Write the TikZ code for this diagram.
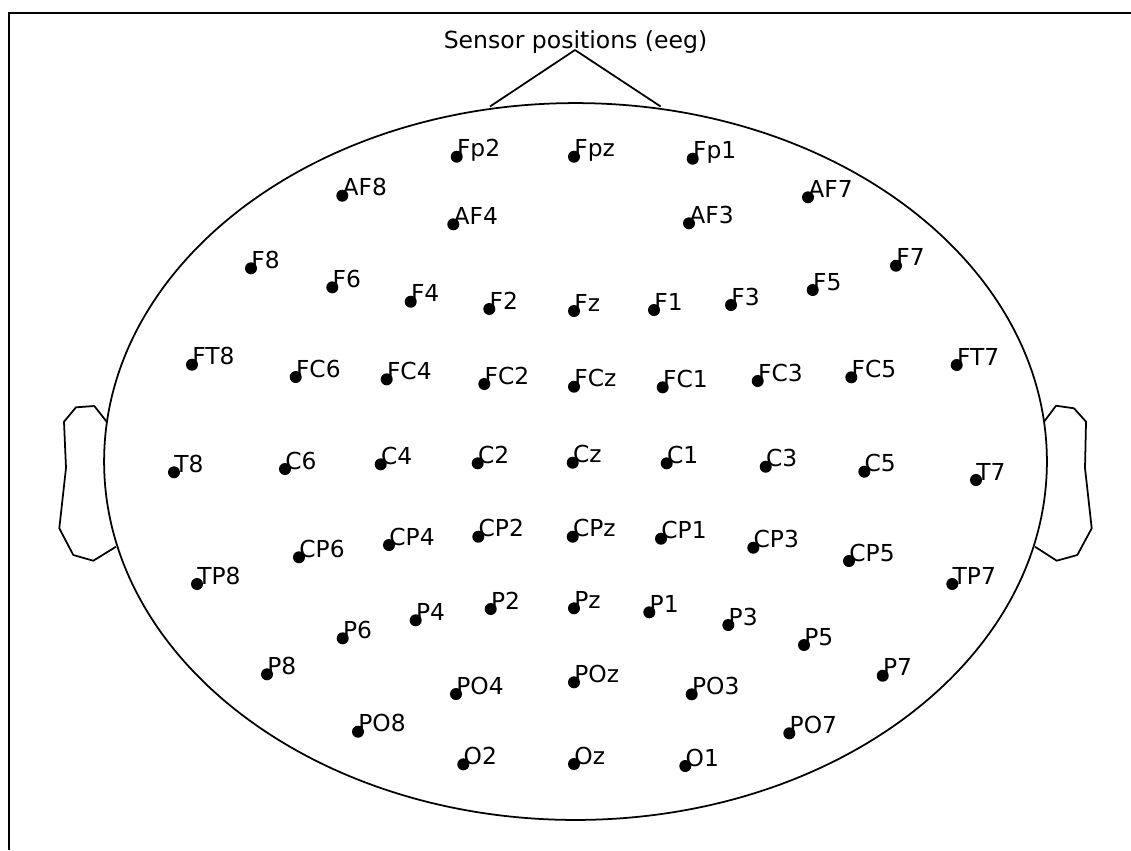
\documentclass[tikz,border=0pt]{standalone}
\usepackage{fontspec}
\setmainfont{DejaVu Sans}
\usetikzlibrary{shapes.geometric}
\begin{document}
\begin{tikzpicture}[x=0.02cm,y=-0.02cm,
  sensor/.style={circle,fill=black,inner sep=0pt,minimum size=0.24cm},
  lbl/.style={anchor=base west,inner sep=0pt,font=\fontsize{13.3}{15}\selectfont},
  outline/.style={line width=1pt,line join=round},
  frameline/.style={line width=1.1pt}]
\useasboundingbox (0,0) rectangle (1131,850);
% axes frame (left and top)
\coordinate (fbl) at (9,850);
\coordinate (ftl) at (9,13);
\coordinate (ftr) at (1131,13);
\draw[frameline] (fbl) -- (ftl) -- (ftr);
% title
\node[anchor=base,inner sep=0pt,font=\fontsize{13.4}{16}\selectfont] (title) at (575.5,48.3) {Sensor positions (eeg)};
% head
\node[draw,ellipse,minimum width=18.86cm,minimum height=14.34cm,inner sep=0pt,line width=1pt] (head) at (575.5,461.5) {};
% nose
\coordinate (noseL) at (490,106.5);
\coordinate (noseT) at (575,50);
\coordinate (noseR) at (660.7,106.5);
\draw[outline] (noseL) -- (noseT) -- (noseR);
% left ear
\draw[outline] (106.7,421.7) -- (94.3,406) -- (76,407.3) -- (64,421.7) -- (66,468) -- (59.3,528.3) -- (73.3,555) -- (93.3,560.7) -- (116,546.7);
% right ear
\draw[outline] (1044,421.7) -- (1056,405.7) -- (1074,408.3) -- (1086,421.7) -- (1085,468) -- (1091.7,528.3) -- (1077.3,555) -- (1056.7,560.7) -- (1035,546.7);
% sensors
\foreach \n/\px/\py in {
 Fp2/456.7/156.7, Fpz/574/156.7, Fp1/692.7/158.7,
 AF8/342.3/195.7, AF4/453.3/224.3, AF3/689/223.3, AF7/808/197.3,
 F8/251/268.3, F6/332.3/287.3, F4/410.7/301.7, F2/489.3/309, Fz/574/311,
 F1/654/310, F3/731/305, F5/812.7/290, F7/896/265.7,
 FT8/192/364.7, FC6/295.7/377, FC4/386.7/379.3, FC2/484.3/384, FCz/574/386.7,
 FC1/662.7/387.3, FC3/757.7/381, FC5/851.3/377.3, FT7/956.7/365,
 T8/174/472.3, C6/285/469, C4/380.7/464.3, C2/477.7/463.3, Cz/572.7/462.7,
 C1/666.7/463.3, C3/765.7/466.7, C5/864.3/471.7, T7/976/480,
 TP8/197/584, CP6/299/557.3, CP4/389/545, CP2/478.3/536.7, CPz/572.7/536.7,
 CP1/661/538.7, CP3/753.3/547.7, CP5/849/561, TP7/952.3/584,
 P8/267/674.3, P6/342.7/638.3, P4/415.7/620.3, P2/490.7/609, Pz/574/608.3,
 P1/649.3/612.3, P3/728.3/625, P5/804/645, P7/882.7/675.7,
 PO8/358/731.7, PO4/456/694, POz/574/682.3, PO3/691.7/694.3, PO7/789.3/733.3,
 O2/463.3/764.3, Oz/574/764, O1/685.3/766}
{
  \node[sensor] (s\n) at (\px,\py) {};
  \node[lbl] (l\n) at (\px,\py) {\n};
}
\end{tikzpicture}
\end{document}
